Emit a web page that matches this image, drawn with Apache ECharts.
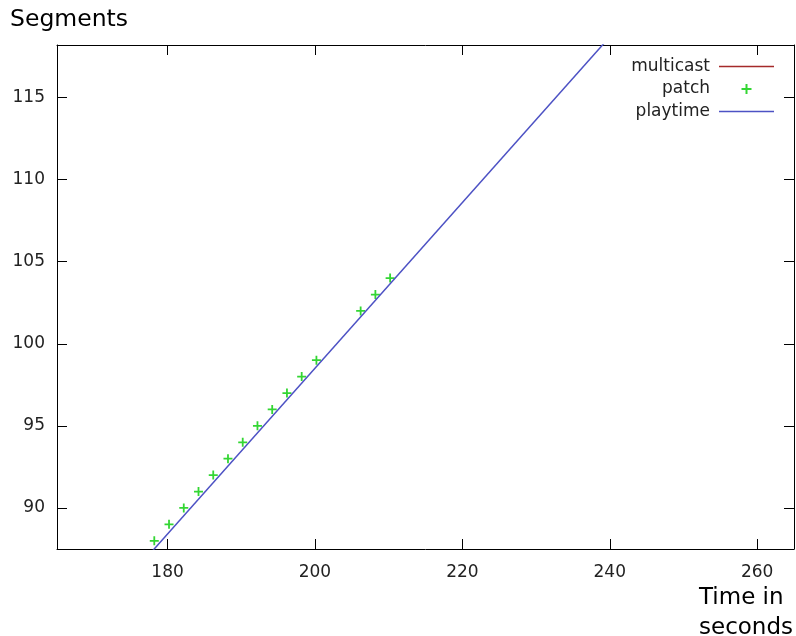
<!DOCTYPE html>
<html>
<head>
<meta charset="utf-8">
<script src="https://cdn.jsdelivr.net/npm/echarts@6/dist/echarts.min.js"></script>
<style>
  html, body { margin: 0; padding: 0; background: #fff; }
  #chart { width: 796px; height: 636px; }
</style>
</head>
<body>
<div id="chart"></div>
<script>
// tick labels
var xTicks = [180, 200, 220, 240, 260];
var yTicks = [90, 95, 100, 105, 110, 115];

// patch points (time, segment)
var patchTime = [178.2, 180.2, 182.2, 184.2, 186.2, 188.2, 190.2, 192.2, 194.2, 196.2, 198.2, 200.2, 206.2, 208.2, 210.2];
var patchSeg  = [88, 89, 90, 91, 92, 93, 94, 95, 96, 97, 98, 99, 102, 103, 104];

// playtime line end points
var playTime = [177, 241];
var playSeg  = [86.9, 119.2];

// multicast has no points in view
var multicastTime = [];
var multicastSeg  = [];

function pairs(a, b) {
    var out = [];
    for (var i = 0; i < a.length; i++) out.push([a[i], b[i]]);
    return out;
}

var font = "DejaVu Sans";
var plus = "path://M4,0h2v4h4v2h-4v4h-2v-4h-4v-2h4z";
var bar = "path://M0,0h55v1.5h-55z";

function axisX(pos, showLabel) {
    return {
        type: "value", position: pos, min: 165, max: 265,
        axisLine: { show: true, onZero: false, lineStyle: { color: "#000", width: 1 } },
        axisTick: { show: true, inside: true, length: 10, customValues: xTicks, lineStyle: { color: "#000" } },
        axisLabel: { show: showLabel, customValues: xTicks, margin: 15, color: "#222", fontFamily: font, fontSize: 17 },
        splitLine: { show: false }
    };
}
function axisY(pos, showLabel) {
    return {
        type: "value", position: pos, min: 87.5, max: 118.2,
        axisLine: { show: true, onZero: false, lineStyle: { color: "#000", width: 1 } },
        axisTick: { show: true, inside: true, length: 10, customValues: yTicks, lineStyle: { color: "#000" } },
        axisLabel: { show: showLabel, customValues: yTicks, margin: 12, color: "#222", fontFamily: font, fontSize: 17 },
        splitLine: { show: false }
    };
}

var chart = echarts.init(document.getElementById("chart"));
chart.setOption({
    animation: false,
    backgroundColor: "#fff",
    grid: { left: 57, right: 2, top: 45, bottom: 87 },
    xAxis: [axisX("bottom", true), axisX("top", false)],
    yAxis: [axisY("left", true), axisY("right", false)],
    legend: {
        orient: "vertical", right: 17, top: 53, align: "right",
        itemWidth: 55, itemHeight: 10, itemGap: 5.5,
        textStyle: { fontFamily: font, fontSize: 17, color: "#222", padding: [0, 4, 0, 0] },
        data: [
            { name: "multicast", icon: bar },
            { name: "patch" },
            { name: "playtime", icon: bar }
        ]
    },
    graphic: [
        { type: "text", left: 10, top: 8, style: { text: "Segments", font: "23.5px DejaVu Sans", fill: "#000" } },
        { type: "text", left: 699, top: 583, style: { text: "Time in\nseconds", font: "23px DejaVu Sans", lineHeight: 30, fill: "#000" } }
    ],
    series: [
        {
            name: "multicast", type: "line", symbol: "none",
            data: pairs(multicastTime, multicastSeg),
            lineStyle: { color: "#a52a2a", width: 1.5 }, itemStyle: { color: "#a52a2a" }
        },
        {
            name: "patch", type: "scatter", symbol: plus, symbolSize: 9,
            data: pairs(patchTime, patchSeg),
            itemStyle: { color: "#33d633", opacity: 1 }
        },
        {
            name: "playtime", type: "line", symbol: "none", clip: true,
            data: pairs(playTime, playSeg),
            lineStyle: { color: "#4d52c4", width: 1.5 }, itemStyle: { color: "#4d52c4" }
        }
    ]
});
</script>
</body>
</html>
